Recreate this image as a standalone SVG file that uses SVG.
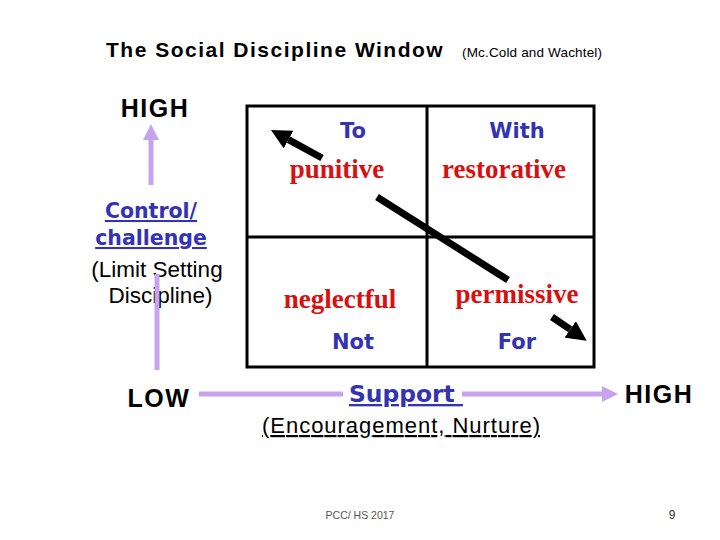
<svg xmlns="http://www.w3.org/2000/svg" width="720" height="540" viewBox="0 0 720 540">
<style>
.sans{font-family:"Liberation Sans",Arial,sans-serif;fill:#000}
.hl{font-family:"Liberation Sans",Arial,sans-serif;font-weight:bold;font-size:25px;letter-spacing:1.5px;fill:#000;text-anchor:middle}
.blue{font-family:"DejaVu Sans",Verdana,sans-serif;font-weight:bold;fill:#3333b4;text-anchor:middle}
.start{text-anchor:start}
.red{font-family:"Liberation Serif","Times New Roman",serif;font-weight:bold;font-size:27px;fill:#d81010;text-anchor:middle}
.grid{fill:none;stroke:#000;stroke-width:3}
.purple{stroke:#c7a3ee;stroke-width:5;fill:none}
.black{stroke:#000;stroke-width:7;fill:none}
</style>
<defs>
<marker id="phead" viewBox="0 0 16 16" refX="0" refY="8" markerWidth="16" markerHeight="16" markerUnits="userSpaceOnUse" orient="auto">
<path d="M0,0 L16,8 L0,16 z" fill="#c7a3ee"/>
</marker>
<marker id="bhead" viewBox="0 0 20 20" refX="0" refY="10" markerWidth="20" markerHeight="20" markerUnits="userSpaceOnUse" orient="auto">
<path d="M0,0 L20,10 L0,20 z" fill="#000"/>
</marker>
</defs>
<rect width="720" height="540" fill="#fff"/>

<g id="title">
<text class="sans" x="106" y="57" font-size="21" font-weight="bold" letter-spacing="1.5">The Social Discipline Window</text>
<text class="sans" x="462" y="57" font-size="13.5" textLength="140">(Mc.Cold and Wachtel)</text>
</g>

<g id="grid">
<rect class="grid" x="247" y="106" width="347" height="261"/>
<line class="grid" x1="427" y1="106" x2="427" y2="367"/>
<line class="grid" x1="247" y1="237" x2="594" y2="237"/>
</g>

<g id="quadrant-punitive">
<text class="blue" x="353" y="138" font-size="21">To</text>
<text class="red" x="337" y="178">punitive</text>
</g>
<g id="quadrant-restorative">
<text class="blue" x="517" y="138" font-size="21">With</text>
<text class="red" x="504" y="178">restorative</text>
</g>
<g id="quadrant-neglectful">
<text class="red" x="340" y="308">neglectful</text>
<text class="blue" x="353" y="349" font-size="21">Not</text>
</g>
<g id="quadrant-permissive">
<text class="red" x="517" y="303">permissive</text>
<text class="blue" x="517" y="349" font-size="21">For</text>
</g>

<g id="axis-control">
<text class="hl" x="155" y="117">HIGH</text>
<text class="blue" x="151" y="218" font-size="20.5" text-decoration="underline">Control/</text>
<text class="blue" x="151" y="245" font-size="20.5" text-decoration="underline">challenge</text>
<text class="sans" x="157" y="277" font-size="22.5" text-anchor="middle">(Limit Setting</text>
<text class="sans" x="160.5" y="303" font-size="22.5" text-anchor="middle">Discipline)</text>
<text class="hl" x="159" y="407">LOW</text>
</g>

<g id="axis-support">
<text class="blue start" x="349" y="402" font-size="23.4" text-decoration="underline" xml:space="preserve">Support </text>
<text class="sans" x="262" y="433" font-size="22" textLength="278" text-decoration="underline">(Encouragement, Nurture)</text>
<text class="hl" x="659" y="403">HIGH</text>
</g>

<g id="connectors">
<line class="purple" x1="151" y1="185" x2="151" y2="140" marker-end="url(#phead)"/>
<line class="purple" x1="157" y1="274" x2="157" y2="370"/>
<line class="purple" x1="199" y1="394" x2="343" y2="394"/>
<line class="purple" x1="462" y1="394" x2="602" y2="394" marker-end="url(#phead)"/>
<line class="black" x1="322" y1="158" x2="288.5" y2="139.6" marker-end="url(#bhead)"/>
<line class="black" x1="377" y1="197" x2="508" y2="280"/>
<line class="black" x1="552" y1="317" x2="570.2" y2="329.4" marker-end="url(#bhead)"/>
</g>

<g id="footer">
<text class="sans" x="360" y="519" font-size="10.5" text-anchor="middle" style="fill:#555">PCC/ HS 2017</text>
<text class="sans" x="672" y="519" font-size="12" text-anchor="middle" style="fill:#333">9</text>
</g>
</svg>
